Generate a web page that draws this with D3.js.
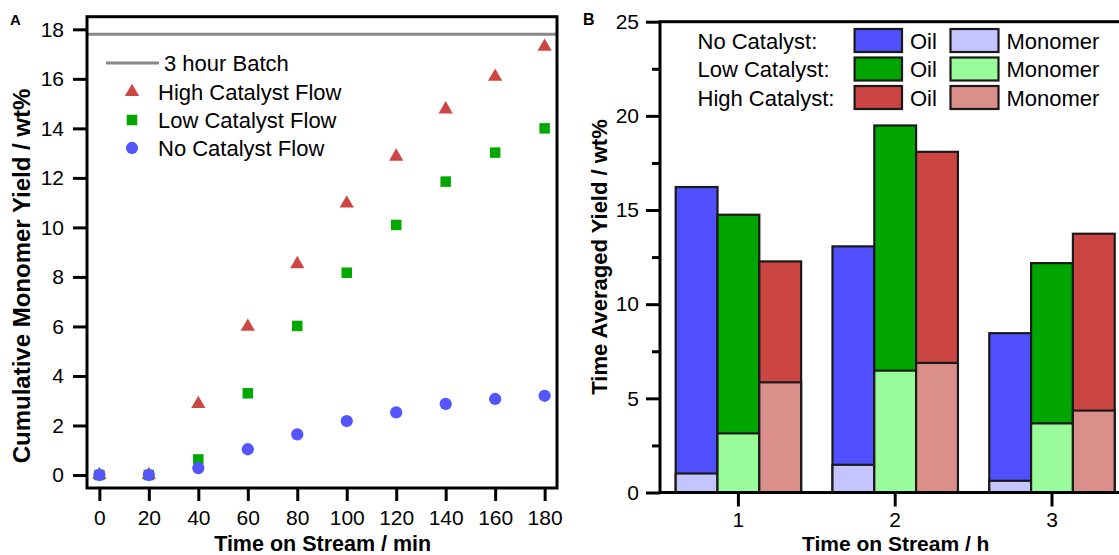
<!DOCTYPE html>
<html>
<head>
<meta charset="utf-8">
<script src="https://cdn.jsdelivr.net/npm/d3@7"></script>
<style>
  html, body { margin: 0; padding: 0; background: #fff; }
  svg { display: block; font-family: "Liberation Sans", Arial, sans-serif; }
</style>
</head>
<body>
<svg id="chart" width="1119" height="555"></svg>
<script>
// ---------- Data: panel A ----------
const timeMin = [0, 20, 40, 60, 80, 100, 120, 140, 160, 180];
const highFlow = [0, 0, 2.87, 5.99, 8.52, 10.97, 12.86, 14.77, 16.09, 17.3];
const lowFlow  = [0, 0, 0.63, 3.3, 6.02, 8.17, 10.1, 11.85, 13.02, 14.0];
const noFlow   = [0, 0, 0.28, 1.04, 1.64, 2.18, 2.53, 2.87, 3.07, 3.2];
const batchYield = 17.8;
const xTicksA = [0, 20, 40, 60, 80, 100, 120, 140, 160, 180];
const yTicksA = [0, 2, 4, 6, 8, 10, 12, 14, 16, 18];

// ---------- Data: panel B ----------
const hours = [1, 2, 3];
const catalysts = ["No Catalyst", "Low Catalyst", "High Catalyst"];
const oilNo    = [16.22, 13.07, 8.46];
const oilLow   = [14.75, 19.49, 12.18];
const oilHigh  = [12.27, 18.09, 13.74];
const monoNo   = [1.01, 1.47, 0.62];
const monoLow  = [3.14, 6.47, 3.67];
const monoHigh = [5.85, 6.88, 4.35];
const yTicksB = [0, 5, 10, 15, 20, 25];
const yMinorB = [2.5, 7.5, 12.5, 17.5, 22.5];

const FONT = 21;
const svg = d3.select("#chart");

// ================= Panel A =================
const A = { l: 87, r: 557, t: 16.7, b: 488 };
const xA = d3.scaleLinear().domain([-5, 185]).range([A.l, A.r]);
const yA = d3.scaleLinear().domain([-0.525, 18.51]).range([A.b, A.t]);

const gA = svg.append("g");

const yAxisA = gA.append("g").attr("transform", `translate(${A.l},0)`)
  .call(d3.axisLeft(yA).tickValues(yTicksA).tickSize(14).tickPadding(9).tickFormat(d3.format("d")));
const xAxisA = gA.append("g").attr("transform", `translate(0,${A.b})`)
  .call(d3.axisBottom(xA).tickValues(xTicksA).tickSize(13).tickPadding(9).tickFormat(d3.format("d")));

[yAxisA, xAxisA].forEach(ax => {
  ax.select(".domain").remove();
  ax.selectAll(".tick line").attr("stroke", "#000").attr("stroke-width", 3);
  ax.selectAll(".tick text").attr("font-size", FONT).attr("fill", "#000")
    .attr("font-family", "Liberation Sans, Arial, sans-serif");
});

gA.append("line")
  .attr("x1", A.l).attr("x2", A.r)
  .attr("y1", yA(batchYield)).attr("y2", yA(batchYield))
  .attr("stroke", "#888").attr("stroke-width", 3);

const sym = {
  tri: d3.symbol().type(d3.symbolTriangle).size(88),
  sq: d3.symbol().type(d3.symbolSquare).size(110),
  circ: d3.symbol().type(d3.symbolCircle).size(118)
};
const seriesA = [
  { vals: highFlow, color: "#cc4744", s: sym.tri },
  { vals: lowFlow, color: "#00a800", s: sym.sq },
  { vals: noFlow, color: "#5555ff", s: sym.circ }
];
seriesA.forEach(sr => {
  gA.append("g").selectAll("path").data(timeMin).join("path")
    .attr("d", sr.s())
    .attr("transform", (d, i) => `translate(${xA(d)},${yA(sr.vals[i])})`)
    .attr("fill", sr.color);
});

gA.append("rect").attr("x", A.l).attr("y", A.t).attr("width", A.r - A.l).attr("height", A.b - A.t)
  .attr("fill", "none").attr("stroke", "#000").attr("stroke-width", 3);

const legA = gA.append("g").attr("font-size", 22).attr("fill", "#000");
legA.append("line").attr("x1", 106).attr("x2", 159).attr("y1", 63).attr("y2", 63)
  .attr("stroke", "#888").attr("stroke-width", 3);
legA.append("text").attr("x", 164).attr("y", 71).text("3 hour Batch");
const legItemsA = [
  { label: "High Catalyst Flow", color: "#cc4744", s: sym.tri },
  { label: "Low Catalyst Flow", color: "#00a800", s: sym.sq },
  { label: "No Catalyst Flow", color: "#5555ff", s: sym.circ }
];
legItemsA.forEach((it, i) => {
  const cy = 92 + i * 28;
  legA.append("path").attr("d", it.s()).attr("transform", `translate(132,${cy})`).attr("fill", it.color);
  legA.append("text").attr("x", 158).attr("y", cy + 8).text(it.label);
});

gA.append("text").attr("x", 322.7).attr("y", 551).attr("text-anchor", "middle")
  .attr("font-size", 21.5).attr("font-weight", "bold").text("Time on Stream / min");
gA.append("text").attr("transform", "translate(30,276) rotate(-90)").attr("text-anchor", "middle")
  .attr("font-size", 24).attr("font-weight", "bold").text("Cumulative Monomer Yield / wt%");
gA.append("text").attr("x", 10).attr("y", 25).attr("font-size", 15).attr("font-weight", "bold").text("A");

// ================= Panel B =================
const B = { l: 660, r: 1130.4, t: 21.7, b: 492.5 };
const xB = d3.scaleBand().domain(hours).range([B.l, B.r]).paddingInner(0.2).paddingOuter(0.1);
const xSub = d3.scaleBand().domain(catalysts).range([0, xB.bandwidth()]);
const yB = d3.scaleLinear().domain([0, 25]).range([B.b, B.t]);

const gB = svg.append("g");

const colorsOil = { "No Catalyst": "#5050ff", "Low Catalyst": "#00a500", "High Catalyst": "#cb4642" };
const colorsMono = { "No Catalyst": "#c4c4ff", "Low Catalyst": "#99fb99", "High Catalyst": "#db8f8b" };
const oilBy = { "No Catalyst": oilNo, "Low Catalyst": oilLow, "High Catalyst": oilHigh };
const monoBy = { "No Catalyst": monoNo, "Low Catalyst": monoLow, "High Catalyst": monoHigh };

const barData = [];
hours.forEach((h, i) => catalysts.forEach(c => barData.push({ h, c, oil: oilBy[c][i], mono: monoBy[c][i] })));

gB.append("g").selectAll("rect").data(barData).join("rect")
  .attr("x", d => xB(d.h) + xSub(d.c)).attr("width", xSub.bandwidth())
  .attr("y", d => yB(d.oil)).attr("height", d => yB(0) - yB(d.oil))
  .attr("fill", d => colorsOil[d.c]).attr("stroke", "#1a1a1a").attr("stroke-width", 2.2);
gB.append("g").selectAll("rect").data(barData).join("rect")
  .attr("x", d => xB(d.h) + xSub(d.c)).attr("width", xSub.bandwidth())
  .attr("y", d => yB(d.mono)).attr("height", d => yB(0) - yB(d.mono))
  .attr("fill", d => colorsMono[d.c]).attr("stroke", "#1a1a1a").attr("stroke-width", 2.2);

const yAxisB = gB.append("g").attr("transform", `translate(${B.l},0)`)
  .call(d3.axisLeft(yB).tickValues(yTicksB).tickSize(14).tickPadding(7).tickFormat(d3.format("d")));
const yMinorAxisB = gB.append("g").attr("transform", `translate(${B.l},0)`)
  .call(d3.axisLeft(yB).tickValues(yMinorB).tickSize(8).tickFormat(""));
const xAxisB = gB.append("g").attr("transform", `translate(0,${B.b})`)
  .call(d3.axisBottom(xB).tickSize(14).tickPadding(6).tickFormat(d3.format("d")));
[yAxisB, yMinorAxisB, xAxisB].forEach(ax => {
  ax.select(".domain").remove();
  ax.selectAll(".tick line").attr("stroke", "#000").attr("stroke-width", 3);
  ax.selectAll(".tick text").attr("font-size", FONT).attr("fill", "#000")
    .attr("font-family", "Liberation Sans, Arial, sans-serif");
});

gB.append("rect").attr("x", B.l).attr("y", B.t).attr("width", B.r - B.l).attr("height", B.b - B.t)
  .attr("fill", "none").attr("stroke", "#000").attr("stroke-width", 3);

const legB = gB.append("g").attr("font-size", 22).attr("fill", "#000");
catalysts.forEach((c, i) => {
  const top = 29 + i * 28.5;
  legB.append("text").attr("x", 697.5).attr("y", top + 19.5).text(c + ":");
  legB.append("rect").attr("x", 854.6).attr("y", top).attr("width", 47.4).attr("height", 23)
    .attr("fill", colorsOil[c]).attr("stroke", "#1a1a1a").attr("stroke-width", 2.2);
  legB.append("text").attr("x", 910).attr("y", top + 19.5).text("Oil");
  legB.append("rect").attr("x", 950.5).attr("y", top).attr("width", 48).attr("height", 23)
    .attr("fill", colorsMono[c]).attr("stroke", "#1a1a1a").attr("stroke-width", 2.2);
  legB.append("text").attr("x", 1006.4).attr("y", top + 19.5).text("Monomer");
});

gB.append("text").attr("x", 895.7).attr("y", 551).attr("text-anchor", "middle")
  .attr("font-size", 21).attr("font-weight", "bold").text("Time on Stream / h");
gB.append("text").attr("transform", "translate(607,257) rotate(-90)").attr("text-anchor", "middle")
  .attr("font-size", 22).attr("font-weight", "bold").text("Time Averaged Yield / wt%");
gB.append("text").attr("x", 583).attr("y", 25).attr("font-size", 16).attr("font-weight", "bold").text("B");
</script>
</body>
</html>
